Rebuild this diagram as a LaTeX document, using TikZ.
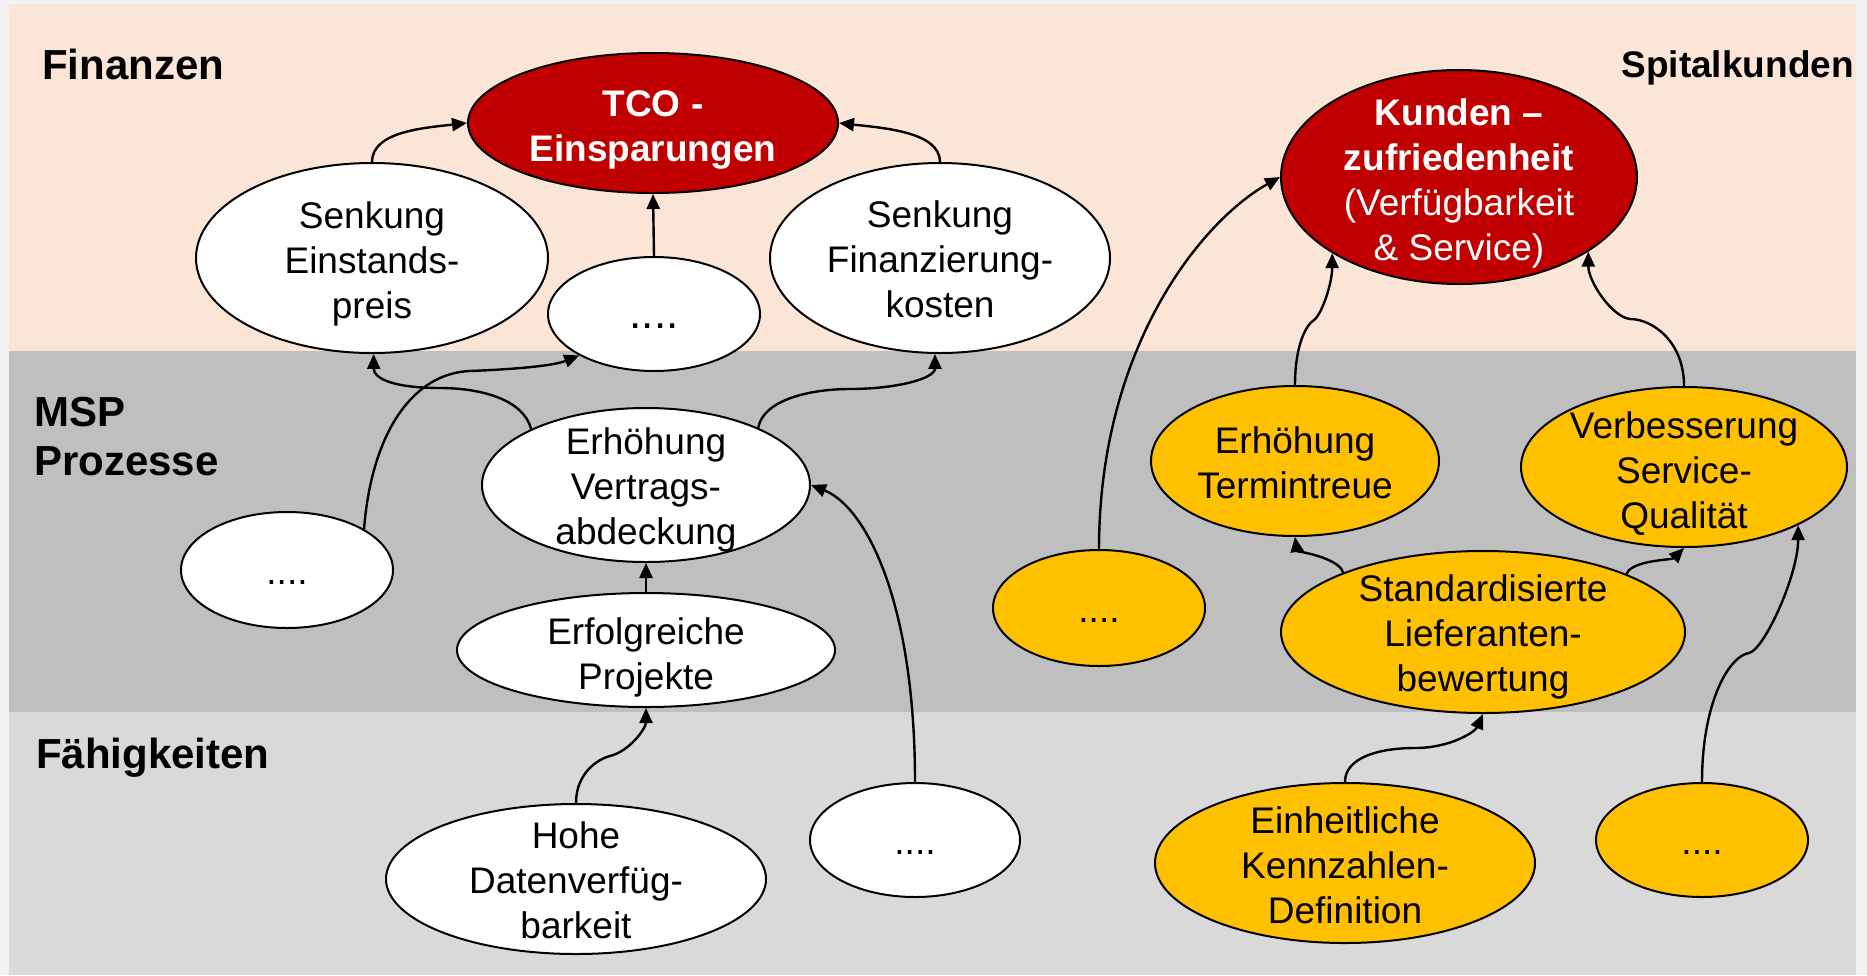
\documentclass[tikz,border=0pt]{standalone}
\usepackage{fontspec}
\setmainfont{Liberation Sans}
\usetikzlibrary{shapes.geometric,arrows.meta}
\definecolor{outerbg}{HTML}{F2F2F2}
\definecolor{peach}{HTML}{FBE5D6}
\definecolor{midgray}{HTML}{BFBFBF}
\definecolor{lightgray}{HTML}{D9D9D9}
\definecolor{darkred}{HTML}{C00000}
\definecolor{gold}{HTML}{FFC000}
\newcommand\dnr[1]{\rule{0pt}{#1pt}}
\begin{document}
\begin{tikzpicture}[x=1pt,y=-1pt,
  ell/.style={ellipse, draw=black, line width=2pt, inner sep=-20pt, align=center,
    font=\fontsize{37}{45}\selectfont, text=black},
  wht/.style={ell, fill=white},
  ylw/.style={ell, fill=gold},
  redn/.style={ell, fill=darkred, text=white},
  dotsn/.style={text height=28pt, text depth=0pt},
  conn/.style={line width=2.4pt, -{Triangle[length=15pt,width=13pt]}},
  band/.style={font=\fontsize{42}{50}\selectfont\bfseries, anchor=base west, inner sep=0pt}
]
\useasboundingbox (0,0) rectangle (1867,975);
\fill[outerbg] (0,0) rectangle (1867,975);
\fill[peach] (9,4) rectangle (1856,351);
\fill[midgray] (9,351) rectangle (1856,712);
\fill[lightgray] (9,712) rectangle (1856,975);

\node[band] (lfin) at (42,79) {Finanzen};
\node[band] (lmsp) at (34,426) {MSP};
\node[band] (lpro) at (34,475) {Prozesse};
\node[band] (lfae) at (36,768) {Fähigkeiten};
\node[font=\fontsize{37}{45}\selectfont\bfseries, anchor=base east, inner sep=0pt] (lspi) at (1854,77) {Spitalkunden};

% Finanzen
\node[wht, minimum width=352pt, minimum height=190pt] (see) at (372,258) {\dnr{39}Senkung\\Einstands-\\preis};
\node[redn, minimum width=370pt, minimum height=140pt, font=\fontsize{37}{45}\selectfont\bfseries] (tco) at (653,123) {\dnr{39}TCO -\\Einsparungen};
\node[wht, dotsn, minimum width=212pt, minimum height=114pt, font=\fontsize{44}{50}\selectfont] (dots1) at (654,314) {....};
\node[wht, minimum width=340pt, minimum height=190pt] (sfk) at (940,258) {\dnr{29}Senkung\\Finanzierung-\\kosten};
\node[redn, minimum width=356pt, minimum height=214pt] (kz) at (1459,177) {\dnr{39}\textbf{Kunden –}\\\textbf{zufriedenheit}\\(Verfügbarkeit\\\& Service)};

% MSP
\node[wht, minimum width=328pt, minimum height=154pt] (ev) at (646,485) {\dnr{37}Erhöhung\\Vertrags-\\abdeckung};
\node[wht, dotsn, minimum width=212pt, minimum height=116pt] (dl) at (287,570) {....};
\node[wht, minimum width=378pt, minimum height=114pt] (ep) at (646,650) {\dnr{41}Erfolgreiche\\Projekte};
\node[ylw, dotsn, minimum width=212pt, minimum height=116pt] (yd1) at (1099,608) {....};
\node[ylw, minimum width=288pt, minimum height=150pt] (et) at (1295,461) {\dnr{31}Erhöhung\\Termintreue};
\node[ylw, minimum width=326pt, minimum height=160pt] (vs) at (1684,467) {\dnr{39}Verbesserung\\Service-\\Qualität};
\node[ylw, minimum width=404pt, minimum height=162pt] (sl) at (1483,632) {\dnr{37}Standardisierte\\Lieferanten-\\bewertung};

% Faehigkeiten
\node[wht, minimum width=380pt, minimum height=150pt] (hd) at (576,879) {\dnr{29}Hohe\\Datenverfüg-\\barkeit};
\node[wht, dotsn, minimum width=210pt, minimum height=114pt] (d3) at (915,840) {....};
\node[ylw, minimum width=380pt, minimum height=160pt] (ek) at (1345,863) {\dnr{31}Einheitliche\\Kennzahlen-\\Definition};
\node[ylw, dotsn, minimum width=212pt, minimum height=114pt] (yd2) at (1702,840) {....};

% waypoints
\coordinate (dm) at (440,388);
\coordinate (em) at (470,371);
\coordinate (fm) at (850,389);
\coordinate (hm) at (610,756);
\coordinate (km) at (1314,320);
\coordinate (lm) at (1630,319);
\coordinate (om) at (1415,748);
\coordinate (pm) at (1749,653);

% connectors
\draw[conn] (see.north) .. controls +(0,-30) and +(-45,5) .. (tco.west);
\draw[conn] (sfk.north) .. controls +(0,-30) and +(45,5) .. (tco.east);
\draw[conn] (dots1.north) -- (tco.south);
\draw[conn] (ev.154) .. controls +(-8,-30) and +(40,0) .. (dm) .. controls +(-45,0) and +(0,25) .. (see.-89);
\draw[conn] (dl.28) .. controls +(8,-100) and +(-55,2) .. (em) .. controls +(50,-2) and +(-25,10) .. (dots1.209);
\draw[conn] (ev.27) .. controls +(5,-28) and +(-40,0) .. (fm) .. controls +(45,0) and +(0,25) .. (sfk.267);
\draw[conn] (ep.north) -- (ev.south);
\draw[conn] (hd.north) .. controls +(0,-30) and +(-12,3) .. (hm) .. controls +(20,-5) and +(0,20) .. (ep.south);
\draw[conn] (d3.north) .. controls +(0,-180) and +(55,22) .. (ev.east);
\draw[conn] (yd1.north) .. controls +(0,-200) and +(-80,45) .. (kz.west);
\draw[conn] (et.north) .. controls +(0,-40) and +(-8,5) .. (km) .. controls +(8,-6) and +(0,30) .. (kz.211);
\draw[conn] (vs.north) .. controls +(0,-45) and +(22,0) .. (lm) .. controls +(-18,-2) and +(0,30) .. (kz.-30);
\draw[conn] (sl.157) .. controls +(-4,-15) and +(2,14) .. (et.south);
\draw[conn] (sl.22) .. controls +(5,-14) and +(-12,12) .. (vs.south);
\draw[conn] (ek.north) .. controls +(0,-25) and +(-35,0) .. (om) .. controls +(35,0) and +(-8,18) .. (sl.south);
\draw[conn] (yd2.north) .. controls +(0,-80) and +(-20,3) .. (pm) .. controls +(15,-3) and +(0,50) .. (vs.-27);
\end{tikzpicture}
\end{document}
